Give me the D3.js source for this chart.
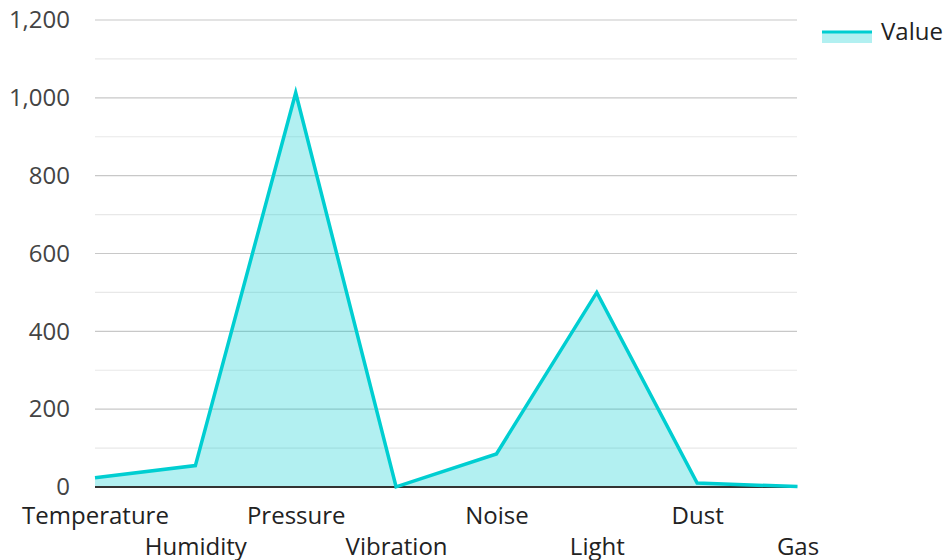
<!DOCTYPE html>
<html><head><meta charset="utf-8">
<script src="https://cdn.jsdelivr.net/npm/d3@7"></script>
<style>body{margin:0;background:#fff;} text{font-family:"Open Sans","Noto Sans",sans-serif;}</style>
</head><body>
<svg id="c" width="947" height="560"></svg>
<script>
const categories = ["Temperature","Humidity","Pressure","Vibration","Noise","Light","Dust","Gas"];
const values = [24, 55, 1013, 0.5, 85, 500, 10, 1];
const yTicks = [0,200,400,600,800,1000,1200];
const minorTicks = [100,300,500,700,900,1100];
const seriesName = "Value";
const color = "#00CED1";

const svg = d3.select("#c");
const m = {l:95, r:150, t:20, b:73};
const W = 947, H = 560;
const x = d3.scalePoint().domain(categories).range([m.l, W - m.r + 0.5]);
const y = d3.scaleLinear().domain([0,1200]).range([H - m.b, m.t]);

const g = svg.append("g");
g.selectAll(".minor").data(minorTicks).join("line")
  .attr("x1", m.l).attr("x2", W - m.r).attr("y1", d=>y(d)).attr("y2", d=>y(d))
  .attr("stroke", "#e8e8e8").attr("stroke-width", 1.2);
g.selectAll(".major").data(yTicks.slice(1)).join("line")
  .attr("x1", m.l).attr("x2", W - m.r).attr("y1", d=>y(d)).attr("y2", d=>y(d))
  .attr("stroke", "#c8c8c8").attr("stroke-width", 1.2);

const yAxis = d3.axisLeft(y).tickValues(yTicks).tickSize(0).tickPadding(25).tickFormat(d3.format(","));
const ya = svg.append("g").attr("transform", `translate(${m.l},0)`).call(yAxis);
ya.select(".domain").remove();
ya.selectAll("text").attr("font-size", 24).attr("fill", "#444").attr("font-family", '"Open Sans",sans-serif');

const area = d3.area().x((d,i)=>x(categories[i])).y0(y(0)).y1(d=>y(d));
const line = d3.line().x((d,i)=>x(categories[i])).y(d=>y(d));
svg.append("path").datum(values).attr("d", area).attr("fill", color).attr("fill-opacity", 0.3);

svg.append("line").attr("x1", m.l).attr("x2", W - m.r).attr("y1", y(0)).attr("y2", y(0))
  .attr("stroke", "#333").attr("stroke-width", 2);
svg.append("path").datum(values).attr("d", line).attr("fill", "none").attr("stroke", color).attr("stroke-width", 3.5).attr("stroke-linejoin","miter");

const xAxis = d3.axisBottom(x).tickSize(0).tickPadding(0);
const xa = svg.append("g").attr("transform", `translate(0,${y(0)})`).call(xAxis);
xa.select(".domain").remove();
xa.selectAll("text").attr("font-size", 24).attr("fill", "#222").attr("font-family", '"Open Sans",sans-serif')
  .attr("dy", null).attr("y", (d,i)=> i%2===0 ? 37 : 68);

const lg = svg.append("g");
lg.append("rect").attr("x", 822).attr("y", 31).attr("width", 50).attr("height", 12).attr("fill", color).attr("fill-opacity", 0.3);
lg.append("line").attr("x1", 822).attr("x2", 872).attr("y1", 32).attr("y2", 32).attr("stroke", color).attr("stroke-width", 3);
lg.append("text").attr("x", 881).attr("y", 40).attr("font-size", 24).attr("fill", "#222").text(seriesName);
</script>
</body></html>
